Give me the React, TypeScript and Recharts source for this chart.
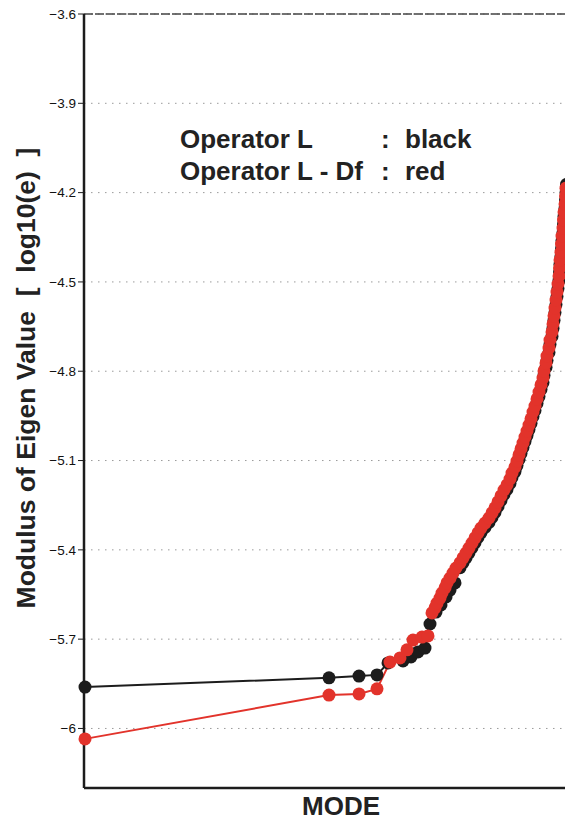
import React from 'react';
import { LineChart, Line, XAxis, YAxis, CartesianGrid, ReferenceLine, Label } from 'recharts';

// eigenvalue spectra (mode index, log10 |e|)
const blackModes = [
  2, 490, 550, 586, 608, 638, 654, 668, 682, 692, 704, 714, 724, 732, 742,
  752, 758, 764, 770, 776, 782, 788, 794, 802, 810, 816, 822, 828, 834, 840,
  846, 852, 856, 862, 866, 870, 874, 878, 882, 886, 890, 894, 898, 902, 906,
  910, 914, 918, 920, 924, 926, 930, 932, 936, 938, 940, 942, 944, 946, 948,
  950, 951, 952, 954, 955, 956, 958, 959, 960, 962, 963, 964, 965,
];
const blackValues = [
  -5.861, -5.83, -5.824, -5.82, -5.78, -5.773, -5.76, -5.743, -5.73, -5.649, -5.609, -5.585, -5.558, -5.535, -5.511,
  -5.46, -5.443, -5.427, -5.41, -5.393, -5.376, -5.358, -5.342, -5.325, -5.308, -5.291, -5.274, -5.254, -5.234, -5.214,
  -5.197, -5.177, -5.157, -5.137, -5.117, -5.096, -5.076, -5.056, -5.036, -5.016, -4.996, -4.975, -4.952, -4.932, -4.908,
  -4.885, -4.861, -4.838, -4.814, -4.787, -4.764, -4.737, -4.71, -4.683, -4.656, -4.629, -4.603, -4.576, -4.549, -4.522,
  -4.495, -4.468, -4.441, -4.415, -4.388, -4.361, -4.334, -4.307, -4.28, -4.253, -4.226, -4.2, -4.172,
];

const redModes = [
  2, 490, 550, 586, 612, 632, 646, 658, 676, 688, 696, 702, 706, 712, 716,
  722, 726, 732, 738, 744, 752, 758, 764, 770, 776, 782, 788, 794, 802, 810,
  816, 822, 828, 834, 840, 846, 852, 856, 862, 866, 870, 874, 878, 882, 886,
  890, 894, 898, 902, 906, 910, 914, 918, 920, 924, 926, 930, 932, 936, 938,
  940, 942, 944, 946, 948, 950, 951, 952, 954, 955, 956, 958, 959, 960, 962,
  963, 964,
];
const redValues = [
  -6.035, -5.888, -5.884, -5.867, -5.777, -5.763, -5.736, -5.703, -5.693, -5.689, -5.612, -5.595, -5.579, -5.562, -5.545,
  -5.528, -5.511, -5.495, -5.478, -5.461, -5.444, -5.427, -5.411, -5.394, -5.377, -5.36, -5.343, -5.327, -5.31, -5.293,
  -5.276, -5.259, -5.239, -5.219, -5.199, -5.182, -5.162, -5.142, -5.122, -5.102, -5.081, -5.061, -5.041, -5.021, -5.001,
  -4.981, -4.96, -4.937, -4.917, -4.893, -4.87, -4.846, -4.823, -4.799, -4.772, -4.749, -4.722, -4.695, -4.668, -4.641,
  -4.614, -4.588, -4.561, -4.534, -4.507, -4.48, -4.453, -4.426, -4.4, -4.373, -4.346, -4.319, -4.292, -4.265, -4.238,
  -4.211, -4.185,
];

const yTicks = [-6, -5.7, -5.4, -5.1, -4.8, -4.5, -4.2, -3.9, -3.6];

const blackData = blackModes.map((mode, i) => ({ mode, value: blackValues[i] }));
const redData = redModes.map((mode, i) => ({ mode, value: redValues[i] }));

const FONT = '"Liberation Sans", Arial, Helvetica, sans-serif';
const BLACK = '#1c1c1c';
const RED = '#e2332b';

const fmt = (v: number) => String(Math.round(v * 10) / 10).replace('-', '\u2212');

function YTitle() {
  return (
    <text
      x={26}
      y={378}
      transform="rotate(-90 26 378)"
      textAnchor="middle"
      dominantBaseline="central"
      fontFamily={FONT}
      fontWeight="bold"
      fontSize={26.5}
      fill="#222"
      style={{ whiteSpace: 'pre' }}
    >
      {'Modulus of Eigen Value  [  log10(e)  ]'}
    </text>
  );
}

function XTitle() {
  return (
    <text x={341} y={815} textAnchor="middle" fontFamily={FONT} fontWeight="bold" fontSize={26} fill="#222">
      MODE
    </text>
  );
}

const legendStyle: React.CSSProperties = {
  position: 'absolute',
  fontFamily: FONT,
  fontWeight: 'bold',
  fontSize: 26,
  color: '#222',
  lineHeight: '32px',
  whiteSpace: 'pre',
};

export default function App() {
  return (
    <div style={{ position: 'fixed', left: 0, top: 0, width: 565, height: 821, overflow: 'hidden', background: '#fff' }}>
      <LineChart width={610} height={821} margin={{ top: 14, right: 10, bottom: 0, left: 14 }}>
        <CartesianGrid vertical={false} stroke="#9a9a9a" strokeDasharray="1.5 5.5" />
        <XAxis
          type="number"
          dataKey="mode"
          domain={[0, 1032]}
          height={33}
          tick={false}
          tickLine={false}
          axisLine={{ stroke: BLACK, strokeWidth: 2.5 }}
          label={<Label content={XTitle} />}
        />
        <YAxis
          type="number"
          dataKey="value"
          domain={[-6.2, -3.6]}
          ticks={yTicks}
          width={70}
          tickSize={6}
          tickMargin={2}
          tickFormatter={fmt}
          tick={{ fill: '#111', fontSize: 13.5, fontFamily: FONT }}
          tickLine={{ stroke: BLACK }}
          axisLine={{ stroke: BLACK, strokeWidth: 2.5 }}
          label={<Label content={YTitle} />}
        />
        <ReferenceLine y={-3.6} stroke="#444" strokeWidth={1.5} strokeDasharray="9 2" />
        <Line
          data={blackData}
          dataKey="value"
          stroke={BLACK}
          strokeWidth={2}
          dot={{ r: 6.5, fill: BLACK, stroke: 'none' }}
          activeDot={false}
          isAnimationActive={false}
        />
        <Line
          data={redData}
          dataKey="value"
          stroke={RED}
          strokeWidth={2}
          dot={{ r: 6.5, fill: RED, stroke: 'none' }}
          activeDot={false}
          isAnimationActive={false}
        />
      </LineChart>
      <div style={{ ...legendStyle, left: 180, top: 123 }}>Operator L</div>
      <div style={{ ...legendStyle, left: 180, top: 155 }}>Operator L - Df</div>
      <div style={{ ...legendStyle, left: 381, top: 123 }}>:</div>
      <div style={{ ...legendStyle, left: 381, top: 155 }}>:</div>
      <div style={{ ...legendStyle, left: 405, top: 123 }}>black</div>
      <div style={{ ...legendStyle, left: 405, top: 155 }}>red</div>
    </div>
  );
}
